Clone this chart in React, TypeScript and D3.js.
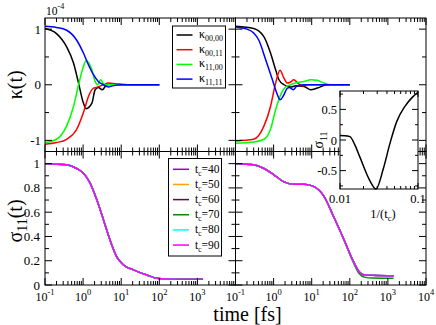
import React from 'react';
import * as d3 from 'd3';

type Pt = [number, number];

// top panels: kappa(t) in units of 1e-4, [time fs, value]
const tlK0000: Pt[] = [[0.1, 1.01], [0.2, 0.92], [0.37, 0.68], [0.56, 0.39], [0.76, 0.03], [1.02, -0.33], [1.2, -0.43], [1.7, -0.33], [2.07, -0.09], [2.5, -0.05], [3.2, -0.09], [4.2, 0], [6, 0.01], [10, 0], [30, 0], [100, 0]];
const tlK0011: Pt[] = [[0.1, -1.07], [0.2, -1.04], [0.37, -0.98], [0.68, -0.8], [1.02, -0.5], [1.38, -0.21], [1.87, -0.06], [2.2, -0.05], [3.4, 0], [4.6, 0.03], [7, 0.02], [15, 0], [100, 0]];
const tlK1100: Pt[] = [[0.1, -1.04], [0.2, -0.98], [0.37, -0.74], [0.56, -0.39], [0.76, 0], [1.02, 0.33], [1.2, 0.43], [1.7, 0.27], [2.07, 0.06], [2.4, 0], [2.9, 0.09], [3.6, 0], [6, 0], [100, 0]];
const tlK1111: Pt[] = [[0.1, 1.05], [0.2, 1.03], [0.37, 0.98], [0.68, 0.8], [1.02, 0.57], [1.38, 0.36], [1.87, 0.18], [2.5, 0.06], [3.4, 0], [4.6, -0.04], [5.9, -0.02], [10, 0], [100, 0]];

const trK0000: Pt[] = [[0.1, 1.05], [0.3, 1.01], [0.56, 0.86], [0.83, 0.57], [1.13, 0.27], [1.38, 0.09], [1.87, 0], [2.8, -0.04], [3.8, -0.02], [6.3, -0.03], [9.4, -0.09], [14, -0.06], [25, 0], [100, 0]];
const trK0011: Pt[] = [[0.1, -1.01], [0.3, -0.98], [0.56, -0.74], [0.83, -0.39], [1.13, 0.03], [1.47, 0.26], [1.87, 0.12], [2.3, 0.03], [2.8, 0.05], [3.4, 0.09], [4.3, 0.03], [5.8, -0.02], [8, 0], [100, 0]];
const trK1100: Pt[] = [[0.1, -1.05], [0.3, -1.03], [0.56, -0.98], [0.83, -0.8], [1.13, -0.45], [1.6, -0.15], [2.07, -0.04], [2.8, 0], [3.8, 0.03], [6.3, 0.06], [9.4, 0.09], [14, 0.08], [21, 0.03], [32, 0], [100, 0]];
const trK1111: Pt[] = [[0.1, 1.04], [0.2, 1.0], [0.3, 0.93], [0.41, 0.8], [0.62, 0.45], [0.93, 0.09], [1.26, -0.18], [1.47, -0.27], [1.87, -0.18], [2.3, -0.06], [2.6, -0.05], [3.3, -0.09], [4, -0.03], [6, 0], [100, 0]];

const kappaColors = ['#000000', '#ff0000', '#00ff00', '#0000ff'];
const kappaSubs = ['00,00', '00,11', '11,00', '11,11'];

// bottom panels: sigma_11(t)
const blSigma: Pt[] = [[0.1, 1.0], [0.37, 0.99], [0.68, 0.96], [1.02, 0.92], [1.53, 0.84], [2.3, 0.7], [3.4, 0.54], [5.1, 0.37], [7.7, 0.23], [11.5, 0.165], [21, 0.125], [47, 0.083], [87, 0.055], [150, 0.05], [1400, 0.047]];
const brSigma: Pt[] = [[0.1, 1.0], [0.3, 0.99], [0.56, 0.96], [1.0, 0.91], [1.87, 0.85], [3.4, 0.83], [6.3, 0.83], [11.5, 0.81], [21, 0.73], [38, 0.56], [71, 0.37], [118, 0.21], [176, 0.11], [240, 0.083], [400, 0.08], [1400, 0.075]];
const brSigma70: Pt[] = [[0.1, 1.0], [0.3, 0.99], [0.56, 0.96], [1.0, 0.91], [1.87, 0.85], [3.4, 0.83], [6.3, 0.83], [11.5, 0.81], [21, 0.73], [38, 0.56], [71, 0.37], [118, 0.2], [176, 0.095], [240, 0.065], [400, 0.057], [1400, 0.055]];

const tcValues = ['40', '50', '60', '70', '80', '90'];
const tcColors = ['#9400d3', '#ffa500', '#670748', '#008b00', '#00ffff', '#ff00ff'];

// inset: sigma_11 vs 1/t_c
const insetSigma: Pt[] = [[0.01, 0.072], [0.0115, 0.07], [0.0134, 0.055], [0.0155, -0.08], [0.018, -0.28], [0.0243, -0.67], [0.0289, -0.8], [0.0359, -0.47], [0.0437, -0.055], [0.0533, 0.3], [0.068, 0.55], [0.085, 0.7], [0.1, 0.78]];

const xTickExps = ['-1', '0', '1', '2', '3', '4'];

const FONT = "'Liberation Serif', 'Times New Roman', serif";
const L = 45, M = 235.5, R = 426, T = 18, MID = 151.5, B = 285;

type Sc = (v: number) => number;

function Frame({ x0, x1, y0, y1, xs, ys, xMaj, xMin, yMaj, yMin, maj = 7, min = 4 }: any) {
  const ticks: JSX.Element[] = [];
  xMaj.forEach((v: number, i: number) => {
    const x = xs(v);
    ticks.push(<line key={'xb' + i} x1={x} x2={x} y1={y1} y2={y1 - maj} />);
    ticks.push(<line key={'xt' + i} x1={x} x2={x} y1={y0} y2={y0 + maj} />);
  });
  xMin.forEach((v: number, i: number) => {
    const x = xs(v);
    ticks.push(<line key={'xmb' + i} x1={x} x2={x} y1={y1} y2={y1 - min} />);
    ticks.push(<line key={'xmt' + i} x1={x} x2={x} y1={y0} y2={y0 + min} />);
  });
  yMaj.forEach((v: number, i: number) => {
    const y = ys(v);
    ticks.push(<line key={'yl' + i} x1={x0} x2={x0 + maj} y1={y} y2={y} />);
    ticks.push(<line key={'yr' + i} x1={x1} x2={x1 - maj} y1={y} y2={y} />);
  });
  yMin.forEach((v: number, i: number) => {
    const y = ys(v);
    ticks.push(<line key={'yml' + i} x1={x0} x2={x0 + min} y1={y} y2={y} />);
    ticks.push(<line key={'ymr' + i} x1={x1} x2={x1 - min} y1={y} y2={y} />);
  });
  return (
    <g stroke="#000" strokeWidth={1} fill="none">
      <rect x={x0} y={y0} width={x1 - x0} height={y1 - y0} />
      {ticks}
    </g>
  );
}

const App = () => {
  const xL = d3.scaleLog().domain([0.1, 1e4]).range([L, M]);
  const xR = d3.scaleLog().domain([0.1, 1e4]).range([M, R]);
  const yTop = d3.scaleLinear().domain([-1.2, 1.2]).range([MID, T]);
  const yBot = d3.scaleLinear().domain([0, 1.1]).range([B, MID]);
  const xIn = d3.scaleLog().domain([0.01, 0.1]).range([340, 418]);
  const yIn = d3.scaleLinear().domain([-0.8, 0.8]).range([189, 91]);

  const allLog = xL.ticks();
  const xMajor = [0.1, 1, 10, 100, 1000, 10000];
  const xMinor = allLog.filter(v => !xMajor.some(m => Math.abs(m - v) / m < 1e-6));
  const inMajor = [0.01, 0.1];
  const inMinor = xIn.ticks().filter(v => !inMajor.some(m => Math.abs(m - v) / m < 1e-6));

  const mkLine = (xs: Sc, ys: Sc) =>
    d3.line<Pt>().x(d => xs(d[0])).y(d => ys(d[1])).curve(d3.curveMonotoneX);

  const lineTL = mkLine(xL, yTop);
  const lineTR = mkLine(xR, yTop);
  const lineBL = mkLine(xL, yBot);
  const lineBR = mkLine(xR, yBot);
  const lineIn = mkLine(xIn, yIn);

  const tlSeries = [tlK0000, tlK0011, tlK1100, tlK1111];
  const trSeries = [trK0000, trK0011, trK1100, trK1111];

  const xLabels = (xs: Sc, exps: string[], vals: number[], kp: string) =>
    vals.map((v, i) => (
      <text key={kp + i} x={xs(v)} y={300.5} textAnchor="middle" fontSize={12}>
        <tspan>10</tspan>
        <tspan dy={-6} fontSize={8.5}>{exps[i]}</tspan>
      </text>
    ));

  return (
    <svg width={436} height={325} style={{ position: 'absolute', left: 0, top: 0, background: '#fff' }} fontFamily={FONT}>
      <g fill="none" strokeWidth={1.5}>
        {tlSeries.map((s, i) => <path key={'tl' + i} d={lineTL(s) || ''} stroke={kappaColors[i]} />)}
        {trSeries.map((s, i) => <path key={'tr' + i} d={lineTR(s) || ''} stroke={kappaColors[i]} />)}
        {tcColors.map((c, i) => <path key={'bl' + i} d={lineBL(blSigma) || ''} stroke={c} />)}
        {tcColors.map((c, i) => <path key={'br' + i} d={lineBR(tcValues[i] === '70' ? brSigma70 : brSigma) || ''} stroke={c} />)}
      </g>

      <Frame x0={L} x1={M} y0={T} y1={MID} xs={xL} ys={yTop} xMaj={xMajor} xMin={xMinor} yMaj={[-1, 0, 1]} yMin={[-0.5, 0.5]} />
      <Frame x0={M} x1={R} y0={T} y1={MID} xs={xR} ys={yTop} xMaj={xMajor} xMin={xMinor} yMaj={[-1, 0, 1]} yMin={[-0.5, 0.5]} />
      <Frame x0={L} x1={M} y0={MID} y1={B} xs={xL} ys={yBot} xMaj={xMajor} xMin={xMinor} yMaj={[0, 0.2, 0.4, 0.6, 0.8, 1]} yMin={[0.1, 0.3, 0.5, 0.7, 0.9]} />
      <Frame x0={M} x1={R} y0={MID} y1={B} xs={xR} ys={yBot} xMaj={xMajor} xMin={xMinor} yMaj={[0, 0.2, 0.4, 0.6, 0.8, 1]} yMin={[0.1, 0.3, 0.5, 0.7, 0.9]} />

      {/* y tick labels */}
      <g fontSize={13} textAnchor="end">
        {[-1, 0, 1].map(v => <text key={'yt' + v} x={41} y={yTop(v) + 4.5}>{v}</text>)}
        {[0, 0.2, 0.4, 0.6, 0.8, 1].map(v => <text key={'yb' + v} x={40} y={yBot(v) + 4.5}>{v}</text>)}
      </g>
      <text x={46} y={15} fontSize={11.5}>
        <tspan>10</tspan>
        <tspan dy={-6} fontSize={8}>-4</tspan>
      </text>

      {/* x tick labels */}
      {xLabels(xL, xTickExps, xMajor.slice(0, 5), 'xl')}
      {xLabels(xR, xTickExps, xMajor, 'xr')}

      {/* axis titles */}
      <text transform={`translate(22,${yTop(0)}) rotate(-90)`} textAnchor="middle" fontSize={20}>κ(t)</text>
      <text transform={`translate(22,221) rotate(-90)`} textAnchor="middle" fontSize={20}>
        <tspan>σ</tspan>
        <tspan dy={5} fontSize={14}>11</tspan>
        <tspan dy={-5}>(t)</tspan>
      </text>
      <text x={247.5} y={320.5} textAnchor="middle" fontSize={20}>time [fs]</text>

      {/* kappa legend */}
      <g>
        <rect x={172.5} y={26} width={53} height={62} fill="#fff" stroke="#000" strokeWidth={1} />
        {kappaSubs.map((s, i) => {
          const y = 35 + i * 14.7;
          return (
            <g key={'kl' + i}>
              <line x1={176.5} x2={192.5} y1={y} y2={y} stroke={kappaColors[i]} strokeWidth={1.5} />
              <text x={199} y={y + 3} fontSize={12}>
                <tspan>κ</tspan>
                <tspan dy={3} fontSize={8}>{s}</tspan>
              </text>
            </g>
          );
        })}
      </g>

      {/* t_c legend */}
      <g>
        <rect x={168.5} y={158.5} width={53} height={97.5} fill="#fff" stroke="#000" strokeWidth={1} />
        {tcValues.map((s, i) => {
          const y = 169.3 + i * 15.15;
          return (
            <g key={'tl' + i}>
              <line x1={173} x2={189} y1={y} y2={y} stroke={tcColors[i]} strokeWidth={1.5} />
              <text x={195} y={y + 3.5} fontSize={11.5}>
                <tspan>t</tspan>
                <tspan dy={3} fontSize={7.5}>c</tspan>
                <tspan dy={-3}>={s}</tspan>
              </text>
            </g>
          );
        })}
      </g>

      {/* inset */}
      <rect x={340} y={91} width={78} height={98} fill="#fff" />
      <path d={lineIn(insetSigma) || ''} fill="none" stroke="#000" strokeWidth={1.5} />
      <Frame x0={340} x1={418} y0={91} y1={189} xs={xIn} ys={yIn} xMaj={inMajor} xMin={inMinor} yMaj={[-0.5, 0, 0.5]} yMin={[-0.75, -0.25, 0.25, 0.75]} maj={6} min={3} />
      <g fontSize={12.5} textAnchor="end">
        {[-0.5, 0, 0.5].map(v => <text key={'yi' + v} x={337} y={yIn(v) + 4.5}>{v}</text>)}
      </g>
      <g fontSize={12.5} textAnchor="middle">
        <text x={xIn(0.01)} y={203}>0.01</text>
        <text x={xIn(0.1)} y={203}>0.1</text>
      </g>
      <text x={383} y={218} textAnchor="middle" fontSize={12.5}>
        <tspan>1/(t</tspan>
        <tspan dy={3} fontSize={8.5}>c</tspan>
        <tspan dy={-3}>)</tspan>
      </text>
      <text transform="translate(323,140) rotate(-90)" textAnchor="middle" fontSize={14}>
        <tspan>σ</tspan>
        <tspan dy={4} fontSize={10}>11</tspan>
      </text>
    </svg>
  );
};

export default App;
